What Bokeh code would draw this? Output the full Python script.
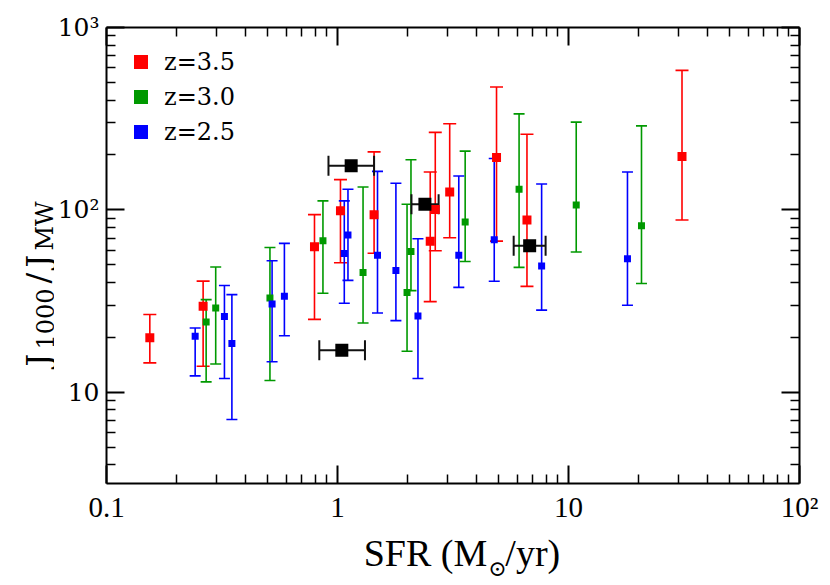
import numpy as np
from bokeh.plotting import figure
from bokeh.layouts import row, column
from bokeh.models import (ColumnDataSource, Whisker, TeeHead, FixedTicker,
                          CustomJSTickFormatter, LogAxis, Range1d, Label)
from bokeh.embed import file_html
from bokeh.resources import INLINE

# ---------------- data ----------------
red_sfr = [0.154, 0.262, 0.795, 1.03, 1.44, 2.52, 2.65, 3.06, 4.88, 6.61, 31.0]
red_j   = [19.9, 29.6, 62.8, 99.0, 94.0, 67.4, 100.4, 125.3, 194.0, 88.1, 196.0]
red_lo  = [14.5, 13.9, 25.1, 51.3, 57.9, 31.4, 59.7, 70.3, 67.4, 38.1, 88.1]
red_hi  = [26.7, 40.7, 94.2, 146.6, 208.0, 161.5, 266.0, 296.5, 472.0, 260.0, 582.0]

green_sfr = [0.270, 0.297, 0.510, 0.865, 1.29, 2.00, 2.08, 3.57, 6.11, 10.8, 20.7]
green_j   = [24.3, 29.0, 32.9, 67.8, 45.4, 35.2, 59.2, 85.9, 129.8, 106.4, 81.8]
green_lo  = [11.4, 14.3, 11.6, 34.9, 24.0, 16.8, 36.1, 52.1, 48.4, 58.8, 39.5]
green_hi  = [32.2, 48.6, 62.2, 112.0, 133.6, 107.4, 188.4, 209.9, 336.0, 303.0, 289.0]

blue_sfr = [0.242, 0.324, 0.349, 0.521, 0.589, 1.07, 1.11, 1.49, 1.79, 2.23, 3.35, 4.77, 7.65, 18.0]
blue_j   = [20.3, 26.0, 18.5, 30.5, 33.6, 57.7, 72.8, 56.5, 46.5, 26.2, 56.5, 68.6, 49.2, 54.0]
blue_lo  = [12.3, 11.9, 7.1, 14.7, 20.4, 30.8, 41.1, 27.2, 24.7, 11.9, 37.6, 40.6, 28.2, 30.0]
blue_hi  = [22.5, 38.5, 34.3, 52.6, 65.5, 112.0, 129.8, 162.6, 140.0, 69.5, 153.5, 191.5, 138.7, 161.5]

black_sfr = [1.146, 1.044, 2.39, 6.79]
black_j   = [174.6, 17.0, 107.4, 63.5]
black_lo  = [0.914, 0.834, 2.09, 5.79]
black_hi  = [1.44, 1.315, 2.74, 7.96]

series_labels = ["z=3.5", "z=3.0", "z=2.5"]

x_ticks = [0.1, 1, 10, 100]
x_tick_labels = ["0.1", "1", "10", "10\u00b2"]
x_minor = [m * d for d in (0.1, 1, 10) for m in range(2, 10)]
y_ticks = [10, 100, 1000]
y_tick_labels = ["10", "10\u00b2", "10\u00b3"]
y_minor = [m for m in range(4, 10)] + [m * d for d in (10, 100) for m in range(2, 10)]

X0, X1 = 0.1, 100.0
Y0, Y1 = 10 ** 0.5, 1000.0

RED, GREEN, BLUE = "#ff0000", "#009900", "#0000ff"

# ---------------- layout geometry (page pixels) ----------------
YLAB_W = 54
MAIN_W, MAIN_H = 768, 525
XLAB_H = 55
TOTAL_H = MAIN_H + XLAB_H

p = figure(width=MAIN_W, height=MAIN_H, x_axis_type="log", y_axis_type="log",
           x_range=Range1d(X0, X1), y_range=Range1d(Y0, Y1),
           output_backend="svg", toolbar_location=None,
           min_border_left=49, min_border_right=23, min_border_top=27,
           min_border_bottom=42)
p.grid.visible = False
p.outline_line_color = None
p.background_fill_color = "white"
p.border_fill_color = "white"

def fmt(vals, labs):
    return CustomJSTickFormatter(args=dict(vals=vals, labs=labs), code="""
        for (let i = 0; i < vals.length; i++) {
            if (Math.abs(Math.log10(vals[i]) - Math.log10(tick)) < 1e-6) return labs[i];
        }
        return '';""")

def style_axis(ax, ticks, minor, labs, font, size, standoff):
    ax.ticker = FixedTicker(ticks=ticks, minor_ticks=minor)
    ax.major_tick_in = 18
    ax.major_tick_out = 0
    ax.minor_tick_in = 9
    ax.minor_tick_out = 0
    ax.axis_line_width = 2
    ax.axis_line_color = "black"
    ax.major_tick_line_width = 2
    ax.minor_tick_line_width = 1.5
    ax.major_tick_line_color = "black"
    ax.minor_tick_line_color = "black"
    ax.axis_label = None
    if labs is None:
        ax.formatter = CustomJSTickFormatter(code="return '';")
        ax.major_label_text_font_size = "1px"
        ax.major_label_standoff = 0
    else:
        ax.formatter = fmt(ticks, labs)
        ax.major_label_text_font = font
        ax.major_label_text_font_size = size
        ax.major_label_text_color = "black"
        ax.major_label_standoff = standoff

style_axis(p.xaxis[0], x_ticks, x_minor, x_tick_labels, "Liberation Serif", "29px", 7)
style_axis(p.yaxis[0], y_ticks, y_minor, y_tick_labels, "DejaVu Serif", "25px", 7)
top = LogAxis()
right = LogAxis()
style_axis(top, x_ticks, x_minor, None, None, None, 0)
style_axis(right, y_ticks, y_minor, None, None, None, 0)
p.add_layout(top, "above")
p.add_layout(right, "right")

# ---------------- error bars ----------------
def vert_err(sfr, j, lo, hi, color, cap):
    src = ColumnDataSource(dict(x=sfr, y=j, lo=lo, hi=hi))
    w = Whisker(base="x", lower="lo", upper="hi", source=src, dimension="height",
                line_color=color, line_width=1.6,
                upper_head=TeeHead(size=cap, line_color=color, line_width=1.6),
                lower_head=TeeHead(size=cap, line_color=color, line_width=1.6))
    p.add_layout(w)
    return src

src_r = vert_err(red_sfr, red_j, red_lo, red_hi, RED, 13)
src_g = vert_err(green_sfr, green_j, green_lo, green_hi, GREEN, 11)
src_b = vert_err(blue_sfr, blue_j, blue_lo, blue_hi, BLUE, 11)

src_k = ColumnDataSource(dict(x=black_sfr, y=black_j, lo=black_lo, hi=black_hi))
p.add_layout(Whisker(base="y", lower="lo", upper="hi", source=src_k, dimension="width",
                     line_color="#111111", line_width=2,
                     upper_head=TeeHead(size=20, line_color="#111111", line_width=2),
                     lower_head=TeeHead(size=20, line_color="#111111", line_width=2)))

# ---------------- points ----------------
p.scatter("x", "y", source=src_r, marker="square", size=9, fill_color=RED,
          line_color=None, legend_label=series_labels[0])
p.scatter("x", "y", source=src_g, marker="square", size=7, fill_color=GREEN,
          line_color=None, legend_label=series_labels[1])
p.scatter("x", "y", source=src_b, marker="square", size=7, fill_color=BLUE,
          line_color=None, legend_label=series_labels[2])
p.scatter("x", "y", source=src_k, marker="square", size=13, fill_color="black",
          line_color=None)

lg = p.legend[0]
lg.location = "top_left"
lg.margin = 17
lg.padding = 0
lg.spacing = 0
lg.glyph_width = 35
lg.glyph_height = 35
lg.label_standoff = 6
lg.label_text_font = "DejaVu Serif"
lg.label_text_font_size = "24px"
lg.label_text_color = "black"
lg.border_line_color = None
lg.background_fill_alpha = 0

# ---------------- axis titles in their own strips ----------------
def strip(w, h):
    f = figure(width=w, height=h, x_range=Range1d(0, w), y_range=Range1d(0, h),
               output_backend="svg", toolbar_location=None,
               x_axis_location=None, y_axis_location=None,
               min_border=0, min_border_left=0, min_border_right=0,
               min_border_top=0, min_border_bottom=0)
    f.grid.visible = False
    f.outline_line_color = None
    f.background_fill_color = "white"
    f.border_fill_color = "white"
    return f

def put(f, x, y, text, font, size, align="left", angle=0.0):
    f.add_layout(Label(x=x, y=y, text=text, text_font=font, text_font_size=size,
                       text_align=align, text_baseline="alphabetic", angle=angle,
                       text_color="black"))

# x title: SFR (M_sun/yr), strip covers page x 54..822, page y 525..580
xs = strip(MAIN_W, XLAB_H)
def xloc(px):
    return px - YLAB_W
def xlocy(py):
    return TOTAL_H - py
put(xs, xloc(476), xlocy(552), "SFR (M", "Liberation Serif", "38px", align="right")
put(xs, xloc(477), xlocy(568), "\u2299", "DejaVu Serif", "22px")
put(xs, xloc(496), xlocy(552), "/yr)", "Liberation Serif", "38px")

# y title: J_1000 / J_MW, rotated to read upward, strip covers page x 0..54
ys = strip(YLAB_W, TOTAL_H)
a = np.pi / 2
def yy(py):
    return TOTAL_H - py
put(ys, 37, yy(366), "J", "DejaVu Serif", "32px", angle=a)
put(ys, 44, yy(349), "1000", "DejaVu Serif", "24px", angle=a)
put(ys, 37, yy(283), "/", "DejaVu Serif", "32px", angle=a)
put(ys, 37, yy(267), "J", "DejaVu Serif", "32px", angle=a)
put(ys, 44, yy(250), "MW", "DejaVu Serif", "24px", angle=a)

layout = row(ys, column(p, xs))
open("out.html", "w").write(file_html(layout, INLINE))
